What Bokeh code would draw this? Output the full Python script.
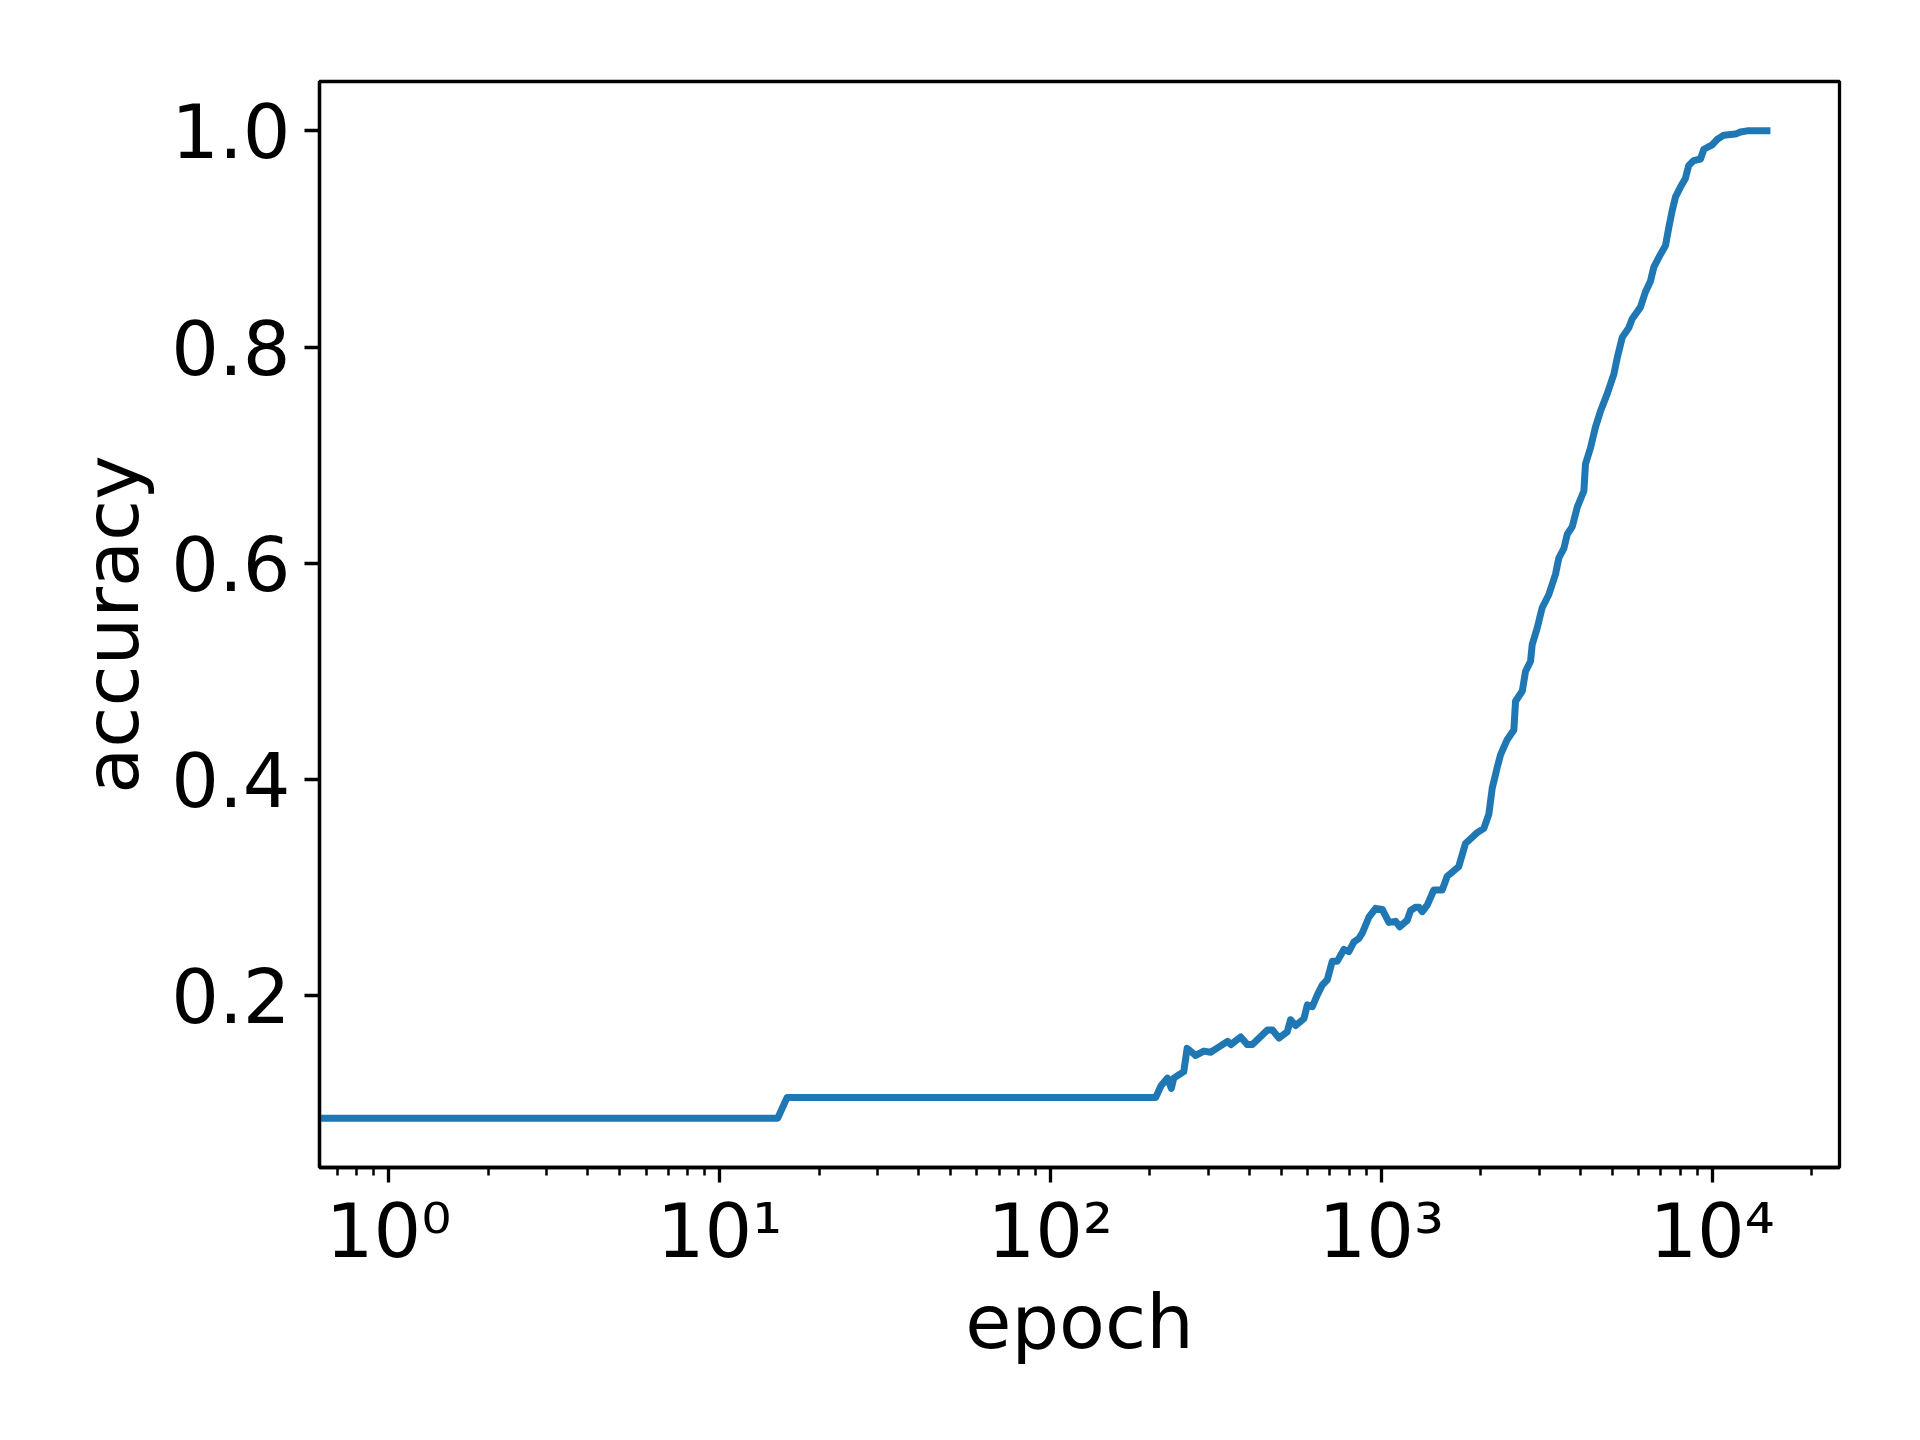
import math
from bokeh.plotting import figure
from bokeh.models import Range1d, FixedTicker, PrintfTickFormatter
from bokeh.embed import file_html
from bokeh.resources import INLINE

# ---- data ----
epochs = [0.5, 1, 15, 16, 208, 216, 226, 232, 236, 253, 259, 275, 291, 305, 320, 343, 351,
          376, 394, 408, 453, 469, 491, 520, 532, 551, 584, 598, 619, 641, 663, 687, 711,
          736, 771, 798, 827, 855, 876, 918, 962, 1007, 1055, 1105, 1138, 1198, 1226, 1270,
          1300, 1330, 1377, 1442, 1528, 1582, 1676, 1715, 1797, 1950, 2042, 2114, 2164, 2240,
          2293, 2402, 2516, 2546, 2668, 2729, 2826, 2859, 2959, 3064, 3208, 3362, 3441, 3565,
          3649, 3778, 3912, 4096, 4142, 4290, 4440, 4600, 4820, 5047, 5165, 5350, 5600, 5730,
          6073, 6285, 6510, 6665, 6985, 7230, 7400, 7570, 7750, 8020, 8300, 8500, 8800, 9220,
          9440, 10000, 10350, 10840, 11760, 12180, 12760, 15000]
accuracy = [0.087, 0.087, 0.087, 0.106, 0.106, 0.117, 0.124, 0.1145, 0.124, 0.130, 0.1515, 0.145,
            0.149, 0.148, 0.152, 0.158, 0.155, 0.162, 0.155, 0.155, 0.1685, 0.1685, 0.161, 0.167,
            0.178, 0.1726, 0.179, 0.1917, 0.190, 0.201, 0.210, 0.215, 0.232, 0.232, 0.243, 0.241,
            0.250, 0.253, 0.258, 0.273, 0.281, 0.280, 0.268, 0.269, 0.264, 0.270, 0.279, 0.282,
            0.282, 0.278, 0.284, 0.298, 0.298, 0.3105, 0.317, 0.3197, 0.341, 0.351, 0.355, 0.368,
            0.392, 0.411, 0.423, 0.437, 0.446, 0.4725, 0.482, 0.500, 0.5095, 0.525, 0.540, 0.559,
            0.571, 0.590, 0.605, 0.614, 0.627, 0.634, 0.652, 0.667, 0.692, 0.707, 0.726, 0.741,
            0.757, 0.775, 0.790, 0.809, 0.818, 0.826, 0.837, 0.851, 0.861, 0.874, 0.886, 0.894,
            0.911, 0.926, 0.939, 0.948, 0.956, 0.968, 0.9725, 0.974, 0.983, 0.987, 0.992, 0.996,
            0.997, 0.999, 1.0, 1.0]

x_tick_values = [1, 10, 100, 1000, 10000]
x_tick_labels = ["10\u2070", "10\u00b9", "10\u00b2", "10\u00b3", "10\u2074"]
x_minor_ticks = [m * 10 ** k for k in range(-1, 5) for m in range(2, 10)]
y_tick_values = [0.2, 0.4, 0.6, 0.8, 1.0]

# ---- ranges like matplotlib's 5% margins ----
pos = [e for e in epochs if e >= 1]
lo, hi = math.log10(min(pos)), math.log10(max(pos))
pad = 0.05 * (hi - lo)
x_range = Range1d(10 ** (lo - pad), 10 ** (hi + pad))
ylo, yhi = min(accuracy), max(accuracy)
ypad = 0.05 * (yhi - ylo)
y_range = Range1d(ylo - ypad, yhi + ypad)

FONT = "DejaVu Sans"
FS = "75px"

p = figure(x_axis_type="log", x_range=x_range, y_range=y_range,
           frame_width=1520, frame_height=1086,
           min_border_left=319, min_border_top=81, min_border_right=64, min_border_bottom=256,
           output_backend="svg", toolbar_location=None,
           background_fill_color="white", border_fill_color="white")

p.line(epochs, accuracy, line_color="#1f77b4", line_width=7, line_join="round")

p.xgrid.visible = False
p.ygrid.visible = False
p.outline_line_color = "black"
p.outline_line_width = 3.3
p.outline_line_alpha = 1.0

xa = p.xaxis[0]
xa.ticker = FixedTicker(ticks=x_tick_values, minor_ticks=x_minor_ticks)
xa.major_label_overrides = dict(zip(x_tick_values, x_tick_labels))
ya = p.yaxis[0]
ya.ticker = FixedTicker(ticks=y_tick_values)
ya.formatter = PrintfTickFormatter(format="%.1f")

for ax in (xa, ya):
    ax.axis_line_color = "black"
    ax.axis_line_width = 3.3
    ax.major_tick_line_width = 3.3
    ax.major_tick_line_color = "black"
    ax.major_tick_out = 15
    ax.major_tick_in = 0
    ax.minor_tick_line_width = 2.5
    ax.minor_tick_line_color = "black"
    ax.minor_tick_out = 8
    ax.minor_tick_in = 0
    ax.major_label_text_font = FONT
    ax.major_label_text_font_size = FS
    ax.major_label_text_color = "black"
    ax.axis_label_text_font = FONT
    ax.axis_label_text_font_size = FS
    ax.axis_label_text_font_style = "normal"
    ax.axis_label_text_color = "black"

ya.minor_tick_line_color = None
xa.axis_label = "epoch"
ya.axis_label = "accuracy"
xa.major_label_standoff = 4
ya.major_label_standoff = 14
xa.axis_label_standoff = 0
ya.axis_label_standoff = 12

open("out.html", "w").write(file_html(p, INLINE))
